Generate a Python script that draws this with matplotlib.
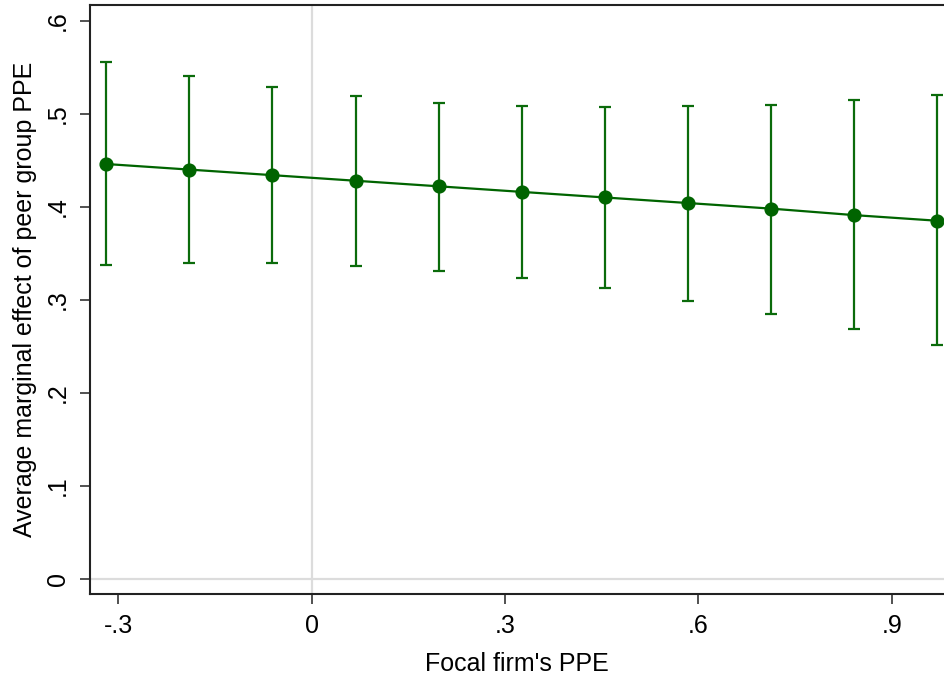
import matplotlib.pyplot as plt

plt.rcParams['font.family'] = ['Liberation Sans', 'DejaVu Sans']

ppe_focal = [-0.319, -0.190, -0.061, 0.068, 0.197, 0.326, 0.455, 0.584, 0.713, 0.842, 0.970]
ame = [0.446, 0.440, 0.434, 0.428, 0.422, 0.416, 0.410, 0.404, 0.398, 0.391, 0.385]
ci_hi = [0.556, 0.541, 0.529, 0.519, 0.512, 0.508, 0.507, 0.508, 0.510, 0.515, 0.520]
ci_lo = [0.337, 0.339, 0.339, 0.336, 0.331, 0.323, 0.313, 0.299, 0.285, 0.268, 0.251]

xticks = [-0.3, 0, 0.3, 0.6, 0.9]
xticklabels = ['-.3', '0', '.3', '.6', '.9']
yticks = [0, 0.1, 0.2, 0.3, 0.4, 0.5, 0.6]
yticklabels = ['0', '.1', '.2', '.3', '.4', '.5', '.6']

green = '#006400'

fig = plt.figure(figsize=(9.44, 6.79), dpi=100)
ax = fig.add_axes([0.0953, 0.1252, 0.9047, 0.8674])

ax.axhline(0, color='#dcdcdc', lw=1.6, zorder=0)
ax.axvline(0, color='#dcdcdc', lw=1.6, zorder=0)

err_lo = [m - l for m, l in zip(ame, ci_lo)]
err_hi = [h - m for m, h in zip(ame, ci_hi)]
ax.errorbar(ppe_focal, ame, yerr=[err_lo, err_hi], fmt='none', ecolor='#0b6b0b',
            elinewidth=1.6, capsize=4.6, capthick=1.6, zorder=2)
ax.plot(ppe_focal, ame, color=green, lw=1.6, marker='o', markersize=9.2,
        markerfacecolor=green, markeredgecolor=green, zorder=3)

ax.set_xlim(-0.344, 0.981)
ax.set_ylim(-0.0165, 0.617)

ax.set_xticks(xticks)
ax.set_xticklabels(xticklabels)
ax.set_yticks(yticks)
ax.set_yticklabels(yticklabels, rotation=90, va='center')

ax.tick_params(axis='both', direction='out', length=7.5, width=1.1, color='#222222',
               labelsize=18, pad=7)
for side in ['left', 'bottom', 'top']:
    ax.spines[side].set_linewidth(1.5)
    ax.spines[side].set_color('#222222')
ax.spines['right'].set_visible(False)

ax.set_xlabel("Focal firm's PPE", fontsize=18, labelpad=10)
ax.set_ylabel("Average marginal effect of peer group PPE", fontsize=18, labelpad=6)

fig.savefig('out.png', dpi=100)
